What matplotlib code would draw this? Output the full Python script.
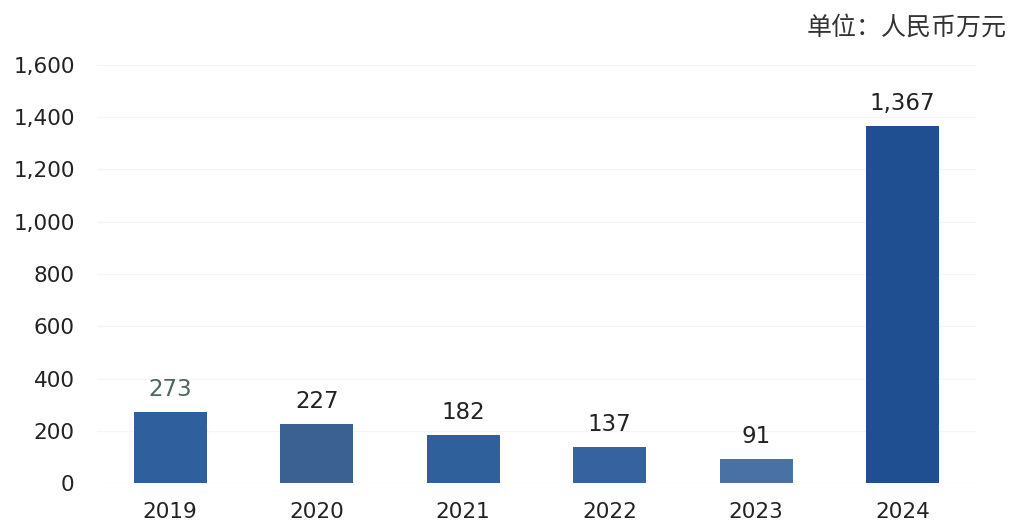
import matplotlib.pyplot as plt

plt.rcParams['font.family'] = ['DejaVu Sans', 'Noto Sans CJK SC']

years = ["2019", "2020", "2021", "2022", "2023", "2024"]
values = [273, 227, 182, 137, 91, 1367]
labels = ["273", "227", "182", "137", "91", "1,367"]
bar_colors = ["#2f5f9c", "#3a6192", "#30609c", "#3762a0", "#4a71a6", "#1f4f90"]
label_colors = ["#4d6660", "#222222", "#222222", "#222222", "#222222", "#222222"]
yticks = [0, 200, 400, 600, 800, 1000, 1200, 1400, 1600]
ytick_labels = ["0", "200", "400", "600", "800", "1,000", "1,200", "1,400", "1,600"]

fig = plt.figure(figsize=(10.12, 5.24), dpi=100)
ax = fig.add_axes([0.0958, 0.0782, 0.8686, 0.7978])

x = range(len(years))
bars = ax.bar(x, values, width=0.5, color=bar_colors, zorder=2)

for i, b in enumerate(bars):
    ax.annotate(labels[i], (b.get_x() + b.get_width() / 2, b.get_height()),
                xytext=(0, 8), textcoords="offset points",
                ha="center", va="bottom", fontsize=16.5, color=label_colors[i])

ax.set_xlim(-0.5, 5.5)
ax.set_ylim(0, 1600)
ax.set_xticks(list(x))
ax.set_xticklabels(years)
ax.set_yticks(yticks)
ax.set_yticklabels(ytick_labels)
ax.tick_params(axis="both", length=0, labelsize=15.5, colors="#222222")
ax.tick_params(axis="y", pad=16)
ax.tick_params(axis="x", pad=14)

ax.yaxis.grid(True, color="#f5f5f5", linewidth=1, zorder=0)
for s in ax.spines.values():
    s.set_visible(False)

fig.text(0.995, 0.948, "单位：人民币万元", ha="right", va="center",
         fontsize=18, color="#333333", family=["Noto Sans CJK SC", "DejaVu Sans"])

fig.savefig("out.png", dpi=100, facecolor="white")
